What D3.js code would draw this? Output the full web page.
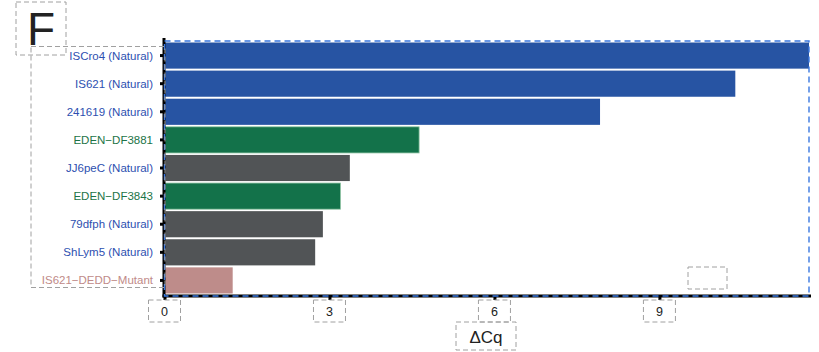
<!DOCTYPE html>
<html>
<head>
<meta charset="utf-8">
<script src="https://cdn.jsdelivr.net/npm/d3@7"></script>
<style>
  body { margin: 0; background: #fff; }
  text { font-family: "Liberation Sans", Arial, sans-serif; }
</style>
</head>
<body>
<script>
const width = 819;
const height = 352;

// data
const names = ["ISCro4 (Natural)", "IS621 (Natural)", "241619 (Natural)", "EDEN\u2212DF3881",
  "JJ6peC (Natural)", "EDEN\u2212DF3843", "79dfph (Natural)", "ShLym5 (Natural)", "IS621\u2212DEDD\u2212Mutant"];
const dcq = [11.72, 10.38, 7.92, 4.63, 3.37, 3.20, 2.88, 2.74, 1.24];
const kind = ["natural", "natural", "natural", "eden", "grey", "eden", "grey", "grey", "mutant"];
const xTicks = [0, 3, 6, 9];

const fillOf = {natural: "#2754a3", eden: "#13724a", grey: "#515456", mutant: "#be8c8a"};
const labelOf = {natural: "#2d4fb0", eden: "#1c7446", grey: "#2d4fb0", mutant: "#c08a88"};

const pLeft = 164.5, pRight = 809, pTop = 41, pBottom = 296;

const x = d3.scaleLinear().domain([0, 11.72]).range([pLeft, pRight]);
const y = d3.scaleBand().domain(names).range([42.5, 293.5]).paddingInner(0.07);

const svg = d3.select("body").append("svg")
    .attr("width", width)
    .attr("height", height);

const dash = "#a0a0a0";

// bars
svg.append("g")
  .selectAll("rect")
  .data(names)
  .join("rect")
    .attr("x", x(0))
    .attr("y", d => y(d))
    .attr("width", (d, i) => x(dcq[i]) - x(0))
    .attr("height", y.bandwidth())
    .attr("fill", (d, i) => fillOf[kind[i]])
    .attr("stroke", (d, i) => kind[i] == "eden" ? "#8fc4a4" : "none")
    .attr("stroke-width", 0.8);

// y labels
svg.append("g")
  .selectAll("text")
  .data(names)
  .join("text")
    .attr("x", 153)
    .attr("y", d => y(d) + y.bandwidth() / 2)
    .attr("dy", "0.35em")
    .attr("text-anchor", "end")
    .attr("font-size", 11.5)
    .attr("fill", (d, i) => labelOf[kind[i]])
    .text(d => d);

// y tick marks
svg.append("g")
  .selectAll("rect")
  .data(names)
  .join("rect")
    .attr("x", 160)
    .attr("y", d => y(d) + y.bandwidth() / 2 - 1.5)
    .attr("width", 4)
    .attr("height", 3)
    .attr("fill", "#000");

// axis lines
svg.append("line").attr("x1", pLeft - 0.5).attr("x2", pLeft - 0.5).attr("y1", 38).attr("y2", 297.5)
  .attr("stroke", "#000").attr("stroke-width", 3);
svg.append("line").attr("x1", pLeft - 2).attr("x2", 811).attr("y1", pBottom).attr("y2", pBottom)
  .attr("stroke", "#000").attr("stroke-width", 3);

// blue dashed panel frame
svg.append("path")
    .attr("d", `M${pLeft},${pTop}H${pRight}V${pBottom}H${pLeft}Z`)
    .attr("fill", "none")
    .attr("stroke", "#3a78e0")
    .attr("stroke-width", 1.4)
    .attr("stroke-dasharray", "6,4");

// x ticks and labels in dashed boxes
const xt = svg.append("g").selectAll("g").data(xTicks).join("g")
    .attr("transform", d => `translate(${x(d)},0)`);
xt.append("rect").attr("x", -1).attr("y", pBottom + 1).attr("width", 3).attr("height", 3).attr("fill", "#000");
xt.append("rect").attr("x", -16).attr("y", 300).attr("width", 32).attr("height", 22)
  .attr("fill", "none").attr("stroke", dash).attr("stroke-dasharray", "5,3");
xt.append("text").attr("y", 316).attr("text-anchor", "middle").attr("font-size", 12.5)
  .attr("fill", "#222").text(d => d);

// x title
svg.append("rect").attr("x", 456).attr("y", 322).attr("width", 60).attr("height", 28)
  .attr("fill", "none").attr("stroke", dash).attr("stroke-dasharray", "5,3");
svg.append("text").attr("x", 486).attr("y", 343).attr("text-anchor", "middle")
  .attr("font-size", 17).attr("fill", "#222").text("\u0394Cq");

// y label area box
svg.append("rect").attr("x", 31).attr("y", 46.5).attr("width", 134).attr("height", 241)
  .attr("fill", "none").attr("stroke", dash).attr("stroke-dasharray", "5,3");

// panel letter
svg.append("rect").attr("x", 16).attr("y", 2).attr("width", 50).attr("height", 53)
  .attr("fill", "none").attr("stroke", dash).attr("stroke-dasharray", "5,3");
svg.append("text").attr("x", 41).attr("y", 45).attr("text-anchor", "middle")
  .attr("font-size", 46).attr("fill", "#222").text("F");

// empty legend box
svg.append("rect").attr("x", 688).attr("y", 267).attr("width", 39).attr("height", 22)
  .attr("fill", "none").attr("stroke", dash).attr("stroke-dasharray", "5,3");
</script>
</body>
</html>
